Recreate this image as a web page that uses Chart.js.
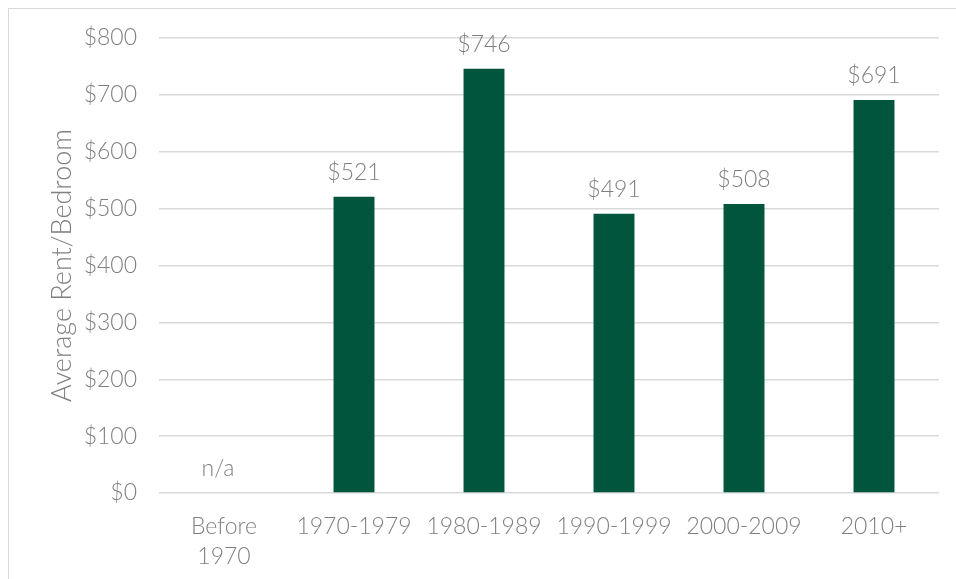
<!DOCTYPE html>
<html>
<head>
<meta charset="utf-8">
<script src="https://cdn.jsdelivr.net/npm/chart.js@4"></script>
<style>
  body { margin: 0; background: #fff; overflow: hidden; }
  #frame {
    position: absolute; left: 8px; top: 8px; width: 1000px; height: 1000px;
    border: 1px solid #d9d9d9; box-sizing: border-box;
  }
  #wrap { position: absolute; left: 0; top: 0; width: 956px; height: 579px; }
</style>
</head>
<body>
<div id="frame"></div>
<div id="wrap"><canvas id="rentChart"></canvas></div>
<script>
// Rata-rata sewa per kamar menurut tahun bangun
const periods = [["Before", "1970"], "1970-1979", "1980-1989", "1990-1999", "2000-2009", "2010+"];
const rentPerBedroom = [null, 521, 746, 491, 508, 691];
const valueLabels = ["n/a", "$521", "$746", "$491", "$508", "$691"];

const textGray = "#7f7f7f";
const fontFamily = "Lato, 'Open Sans', sans-serif";

// Plugin kecil untuk label nilai di atas batang
const barLabels = {
  id: "barLabels",
  afterDatasetsDraw(chart) {
    const ctx = chart.ctx;
    const xScale = chart.scales.x;
    const yScale = chart.scales.y;
    ctx.save();
    ctx.fillStyle = textGray;
    ctx.font = "300 23px " + fontFamily;
    ctx.textAlign = "center";
    ctx.textBaseline = "alphabetic";
    rentPerBedroom.forEach((v, i) => {
      const x = xScale.getPixelForValue(i) - (v === null ? 6 : 0);
      const y = yScale.getPixelForValue(v === null ? 0 : v);
      ctx.fillText(valueLabels[i], x, y - 17);
    });
    ctx.restore();
  },
};

const ctx = document.getElementById("rentChart").getContext("2d");
new Chart(ctx, {
  type: "bar",
  data: {
    labels: periods,
    datasets: [
      {
        label: "Average Rent/Bedroom",
        data: rentPerBedroom,
        backgroundColor: "#00553c",
        categoryPercentage: 1,
        barPercentage: 0.315,
      },
    ],
  },
  options: {
    responsive: true,
    maintainAspectRatio: false,
    animation: false,
    layout: { padding: { top: 38, right: 17, left: 0, bottom: 0 } },
    plugins: { legend: { display: false }, tooltip: { enabled: false } },
    scales: {
      x: {
        grid: { display: false },
        border: { display: false },
        ticks: {
          color: textGray,
          font: { family: fontFamily, size: 23, weight: 300, lineHeight: 1.3 },
          padding: 11,
          maxRotation: 0,
          autoSkip: false,
        },
        afterFit(scale) { scale.height = 86; },
      },
      y: {
        min: 0,
        max: 800,
        grid: { color: "#d9d9d9", lineWidth: 1.5, drawTicks: false },
        border: { display: false },
        ticks: {
          stepSize: 100,
          color: textGray,
          font: { family: fontFamily, size: 23, weight: 300 },
          padding: 22,
          callback: (v) => "$" + v,
        },
        title: {
          display: true,
          text: "Average Rent/Bedroom",
          color: textGray,
          font: { family: fontFamily, size: 27, weight: 300 },
          padding: { top: 46, bottom: 0 },
        },
        afterFit(scale) { scale.width = 159; },
      },
    },
  },
  plugins: [barLabels],
});
</script>
</body>
</html>
